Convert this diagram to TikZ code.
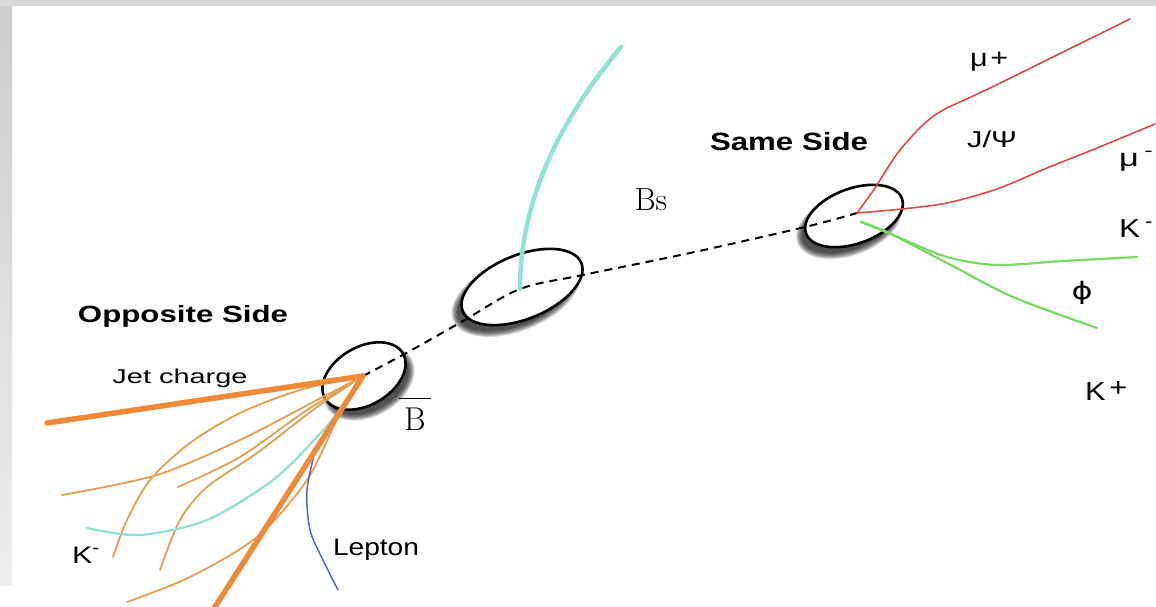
\documentclass[tikz,border=0pt]{standalone}
\usepackage{fontspec}
\usepackage{graphicx}
\newfontfamily\labfont{Liberation Sans}
\newfontfamily\symfont{DejaVu Sans}
% stretch a label horizontally to a given width (in pt), keeping its height
\newcommand\fitw[2]{\resizebox{#1pt}{\height}{#2}}

\definecolor{jetorange}{HTML}{EF8A38}
\definecolor{softorange}{HTML}{E2A055}
\definecolor{kaoncyan}{HTML}{8EE3D2}
\definecolor{muonred}{HTML}{DE4A4C}
\definecolor{phigreen}{HTML}{78DA62}
\definecolor{lepblue}{HTML}{5566CC}
\definecolor{framegrey}{HTML}{D8D8D8}

\tikzset{
  vtxring/.style={draw=black, line width=2.6pt, fill=white},
  flight/.style={draw=black, dash pattern=on 8pt off 6pt, line width=2pt},
  thicktrk/.style={draw=jetorange, line width=5.5pt, line cap=round},
  thintrk/.style={draw=softorange, line width=1.8pt, line cap=round},
  kaontrk/.style={draw=kaoncyan, line width=2.2pt, line cap=round},
  bstrk/.style={draw=kaoncyan, line width=4.5pt, line cap=round},
  muontrk/.style={draw=muonred, line width=1.6pt, line cap=round},
  phitrk/.style={draw=phigreen, line width=2.2pt, line cap=round},
  leptrk/.style={draw=lepblue, line width=1.5pt, line cap=round},
  lab/.style={inner sep=0pt, anchor=base, text=black},
  labw/.style={inner sep=0pt, anchor=base west, text=black},
}

% soft shadow under a vertex ellipse: cx, cy, angle, a, b, dx, dy
\newcommand\vertexshadow[7]{%
  \foreach \k in {0,...,6}{%
    \fill[black, opacity=0.15, rotate around={#3:(#1+#6,#2+#7)}]
      (#1+#6,#2+#7) ellipse [x radius={#4+4-\k}, y radius={#5+4-\k}];
  }}

\begin{document}
\begin{tikzpicture}[x=1pt, y=-1pt]
  \useasboundingbox (0,0) rectangle (1156,606);
  \fill[white] (0,0) rectangle (1156,606);

  % grey frame on the top and left edges
  \fill[framegrey] (0,0) rectangle (1156,6);
  \shade[top color=framegrey!95!black, bottom color=framegrey!45] (0,6) rectangle (12,585);

  % decay vertices
  \coordinate (vB)   at (363,376);
  \coordinate (vBs)  at (520,289);
  \coordinate (vSS)  at (857,213);
  \coordinate (vSSk) at (861,222);

  % vertex ellipses with shadows
  \vertexshadow{364}{376}{30}{45}{29}{5}{7}
  \vertexshadow{522}{287}{22}{64}{32}{-6}{8}
  \vertexshadow{854}{216}{20}{51}{27.5}{-5}{8}
  \draw[vtxring, rotate around={30:(364,376)}] (364,376) ellipse [x radius=45, y radius=29];
  \draw[vtxring, rotate around={22:(522,287)}] (522,287) ellipse [x radius=64, y radius=32];
  \draw[vtxring, rotate around={20:(854,216)}] (854,216) ellipse [x radius=51, y radius=27.5];

  % B flight path
  \draw[flight] plot[smooth, tension=0.55] coordinates
    {(vB) (410,351) (463,321) (vBs) (583,275) (690,253) (805,227) (vSS)};

  % opposite side: jet tracks
  \draw[thintrk] plot[smooth] coordinates {(vB) (317,400) (240,440) (157,475) (62,495)};
  \draw[thintrk] plot[smooth] coordinates {(vB) (300,390) (240,413) (190,443) (150,480) (127,520) (113,557)};
  \draw[thintrk] plot[smooth] coordinates {(vB) (307,410) (240,457) (178,487)};
  \draw[thintrk] plot[smooth] coordinates {(vB) (317,407) (257,453) (207,487) (180,520) (160,570)};
  \draw[thintrk] plot[smooth] coordinates {(vB) (340,413) (307,480) (257,537) (190,577) (127,602)};
  \draw[kaontrk] plot[smooth] coordinates {(vB) (340,410) (317,437) (273,480) (207,520) (140,535) (87,528)};
  \draw[leptrk] plot[smooth] coordinates {(316,447) (307,490) (310,530) (323,560) (338,590)};
  \coordinate (jetEnd) at (47,423);
  \coordinate (lowEnd) at (213,610);
  \draw[thicktrk] (vB) -- (jetEnd);
  \draw[thicktrk] (vB) -- (lowEnd);

  % B_s fragmentation track
  \coordinate (bsEnd) at (621,47);
  \draw[bstrk] (vBs) .. controls (520,200) and (560,120) .. (bsEnd);

  % same side: J/psi -> mu mu, phi -> K K
  \draw[muontrk] plot[smooth] coordinates
    {(vSS) (875,188) (900,150) (935,115) (990,88) (1130,19)};
  \draw[muontrk] plot[smooth] coordinates
    {(vSS) (902,209) (947,203) (997,189) (1047,168) (1097,148) (1155,124)};
  \draw[phitrk] plot[smooth] coordinates
    {(vSSk) (893,235) (947,257) (997,265) (1063,261) (1137,257)};
  \draw[phitrk] plot[smooth] coordinates
    {(vSSk) (887,232) (947,263) (1013,297) (1097,328)};

  % labels
  \node[lab, font=\labfont\bfseries\fontsize{23.5}{28}\selectfont] (tOpp) at (183,322) {\fitw{210}{Opposite Side}};
  \node[lab, font=\labfont\fontsize{20}{24}\selectfont] (tJet) at (180,383) {\fitw{135}{Jet charge}};
  \node[lab, font=\labfont\fontsize{24}{28}\selectfont] (tLep) at (376,555) {\fitw{86}{Lepton}};
  \node[labw, font=\labfont\fontsize{24}{28}\selectfont] (tKl) at (72,563) {\fitw{28}{K\textsuperscript{-}}};
  \node[lab, font=\fontsize{33}{40}\selectfont] (tBbar) at (415,430)
    {\vbox{\hrule height 1.8pt\kern 8pt\hbox to 32pt{\hss B\hss}}};
  \node[lab, font=\fontsize{32}{38}\selectfont] (tBs) at (651,210) {Bs};
  \node[lab, font=\labfont\bfseries\fontsize{25}{30}\selectfont] (tSame) at (789,150) {\fitw{158}{Same Side}};
  \node[lab, font=\labfont\fontsize{23}{28}\selectfont] (tJpsi) at (992,147) {\fitw{50}{J/Ψ}};
  \node[labw, font=\labfont\fontsize{25}{30}\selectfont] (tMup) at (970,66) {\fitw{38}{μ\kern2pt+}};
  \node[labw, font=\labfont\fontsize{25}{30}\selectfont] (tMum) at (1119,166) {\fitw{34}{μ\kern4pt\textsuperscript{-}}};
  \node[labw, font=\labfont\fontsize{26}{30}\selectfont] (tKm) at (1119,237) {\fitw{34}{K\kern4pt\textsuperscript{-}}};
  \node[inner sep=0pt, font=\symfont\fontsize{24}{30}\selectfont] (tPhi) at (1082,293) {\fitw{21}{ϕ}};
  \node[labw, font=\labfont\fontsize{26}{30}\selectfont] (tKp) at (1085,400) {\fitw{42}{K\kern3pt\raisebox{4pt}{+}}};
\end{tikzpicture}
\end{document}
